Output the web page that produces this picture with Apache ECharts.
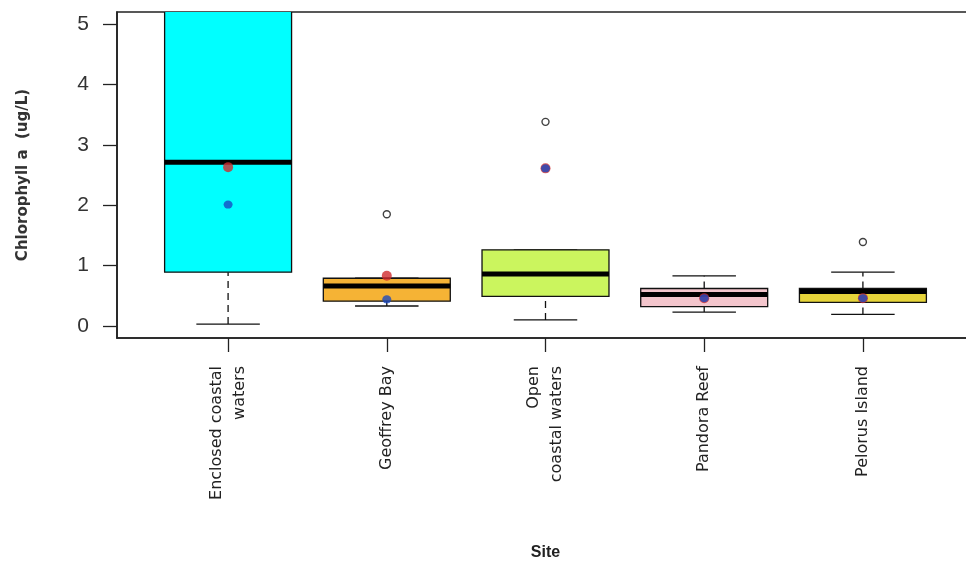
<!DOCTYPE html>
<html>
<head>
<meta charset="utf-8">
<script src="https://cdn.jsdelivr.net/npm/echarts@6/dist/echarts.min.js"></script>
<style>
  html, body { margin: 0; padding: 0; background: #fff; }
  #chart { width: 966px; height: 570px; }
</style>
</head>
<body>
<div id="chart"></div>
<script>
// sites on the x axis
var sites = ['Enclosed coastal\nwaters', 'Geoffrey Bay', 'Open\ncoastal waters', 'Pandora Reef', 'Pelorus Island'];
var sitePos = [1, 2, 3, 4, 5];
var yTicks = [0, 1, 2, 3, 4, 5];

// box statistics (ug/L)
var whiskerLow = [0.03, 0.33, 0.10, 0.23, 0.19];
var q1 = [0.89, 0.41, 0.49, 0.32, 0.39];
var median = [2.71, 0.66, 0.86, 0.52, 0.57];
var q3 = [5.7, 0.79, 1.26, 0.62, 0.62];
var whiskerHigh = [8.0, 0.79, 1.26, 0.83, 0.89];

// outliers [site, value]
var outliers = [[2, 1.85], [3, 3.38], [5, 1.39]];

// extra points drawn per site
var redPoints = [2.63, 0.83, 2.61, 0.46, 0.46];
var bluePoints = [2.01, 0.44, 2.61, 0.46, 0.46];

var boxColors = ['#00ffff', '#f5b335', '#cbf55e', '#f3c5cc', '#e6d43a'];

var chart = echarts.init(document.getElementById('chart'));

var boxData = sitePos.map(function (x, i) {
  return [x, whiskerLow[i], q1[i], median[i], q3[i], whiskerHigh[i]];
});

function renderBox (params, api) {
  var x = api.value(0);
  var lo = api.coord([x, api.value(1)]);
  var b1 = api.coord([x, api.value(2)]);
  var md = api.coord([x, api.value(3)]);
  var b3 = api.coord([x, api.value(4)]);
  var hi = api.coord([x, api.value(5)]);
  var w = api.size([0.8, 0])[0];
  var sw = w / 2;
  var cx = lo[0];
  var dash = { stroke: '#111', lineWidth: 1.3, lineDash: [7, 5] };
  var solid = { stroke: '#111', lineWidth: 1.3 };
  return {
    type: 'group',
    children: [
      { type: 'line', shape: { x1: cx, y1: lo[1], x2: cx, y2: b1[1] }, style: dash },
      { type: 'line', shape: { x1: cx, y1: b3[1], x2: cx, y2: hi[1] }, style: dash },
      { type: 'line', shape: { x1: cx - sw / 2, y1: lo[1], x2: cx + sw / 2, y2: lo[1] }, style: solid },
      { type: 'line', shape: { x1: cx - sw / 2, y1: hi[1], x2: cx + sw / 2, y2: hi[1] }, style: solid },
      {
        type: 'rect',
        shape: { x: cx - w / 2, y: b3[1], width: w, height: b1[1] - b3[1] },
        style: { fill: boxColors[params.dataIndex], stroke: '#111', lineWidth: 1.3 }
      },
      { type: 'line', shape: { x1: cx - w / 2, y1: md[1], x2: cx + w / 2, y2: md[1] }, style: { stroke: '#000', lineWidth: 5 } }
    ]
  };
}

chart.setOption({
  animation: false,
  grid: {
    left: 117,
    top: 12,
    width: 857,
    height: 326,
    outerBoundsMode: 'none',
    show: true,
    borderColor: '#222',
    borderWidth: 1.6,
    backgroundColor: 'transparent'
  },
  xAxis: {
    type: 'value',
    min: 0.3,
    max: 5.7,
    splitLine: { show: false },
    axisLine: { show: true, onZero: false, lineStyle: { color: '#222', width: 1.6 } },
    axisTick: { show: true, customValues: sitePos, length: 14, lineStyle: { color: '#222', width: 1.3 } },
    axisLabel: {
      customValues: sitePos,
      rotate: 90,
      margin: 28,
      fontFamily: 'DejaVu Sans',
      fontSize: 16,
      lineHeight: 23,
      color: '#222',
      formatter: function (v) { return sites[Math.round(v) - 1]; }
    },
    name: 'Site',
    nameLocation: 'middle',
    nameGap: 207,
    nameTextStyle: { fontFamily: "'Liberation Sans Narrow', 'Liberation Sans', Arial", fontWeight: 'bold', fontSize: 16, color: '#222' }
  },
  yAxis: {
    type: 'value',
    min: -0.2,
    max: 5.2,
    splitLine: { show: false },
    axisLine: { show: true, onZero: false, lineStyle: { color: '#222', width: 1.6 } },
    axisTick: { show: true, customValues: yTicks, length: 14, lineStyle: { color: '#222', width: 1.3 } },
    axisLabel: {
      customValues: yTicks,
      margin: 28,
      fontFamily: "'Liberation Sans', Arial",
      fontSize: 21,
      color: '#333'
    },
    name: 'Chlorophyll a  (ug/L)',
    nameLocation: 'middle',
    nameGap: 86,
    nameTextStyle: { fontFamily: 'DejaVu Sans', fontWeight: 'bold', fontSize: 15, color: '#333' }
  },
  series: [
    {
      type: 'custom',
      clip: true,
      renderItem: renderBox,
      encode: { x: 0, y: [1, 2, 3, 4, 5] },
      data: boxData,
      z: 2
    },
    {
      type: 'scatter',
      symbol: 'circle',
      symbolSize: 7,
      itemStyle: { color: '#fff', borderColor: '#111', borderWidth: 1.4 },
      data: outliers,
      z: 3
    },
    {
      type: 'scatter',
      symbol: 'circle',
      symbolSize: 10,
      itemStyle: { color: '#d02a2d' },
      data: sitePos.map(function (x, i) { return [x, redPoints[i]]; }),
      z: 4
    },
    {
      type: 'scatter',
      symbol: 'circle',
      symbolSize: [9, 8],
      itemStyle: { color: '#1848c0', opacity: 0.78 },
      data: sitePos.map(function (x, i) { return [x, bluePoints[i]]; }),
      z: 5
    }
  ]
});
</script>
</body>
</html>
